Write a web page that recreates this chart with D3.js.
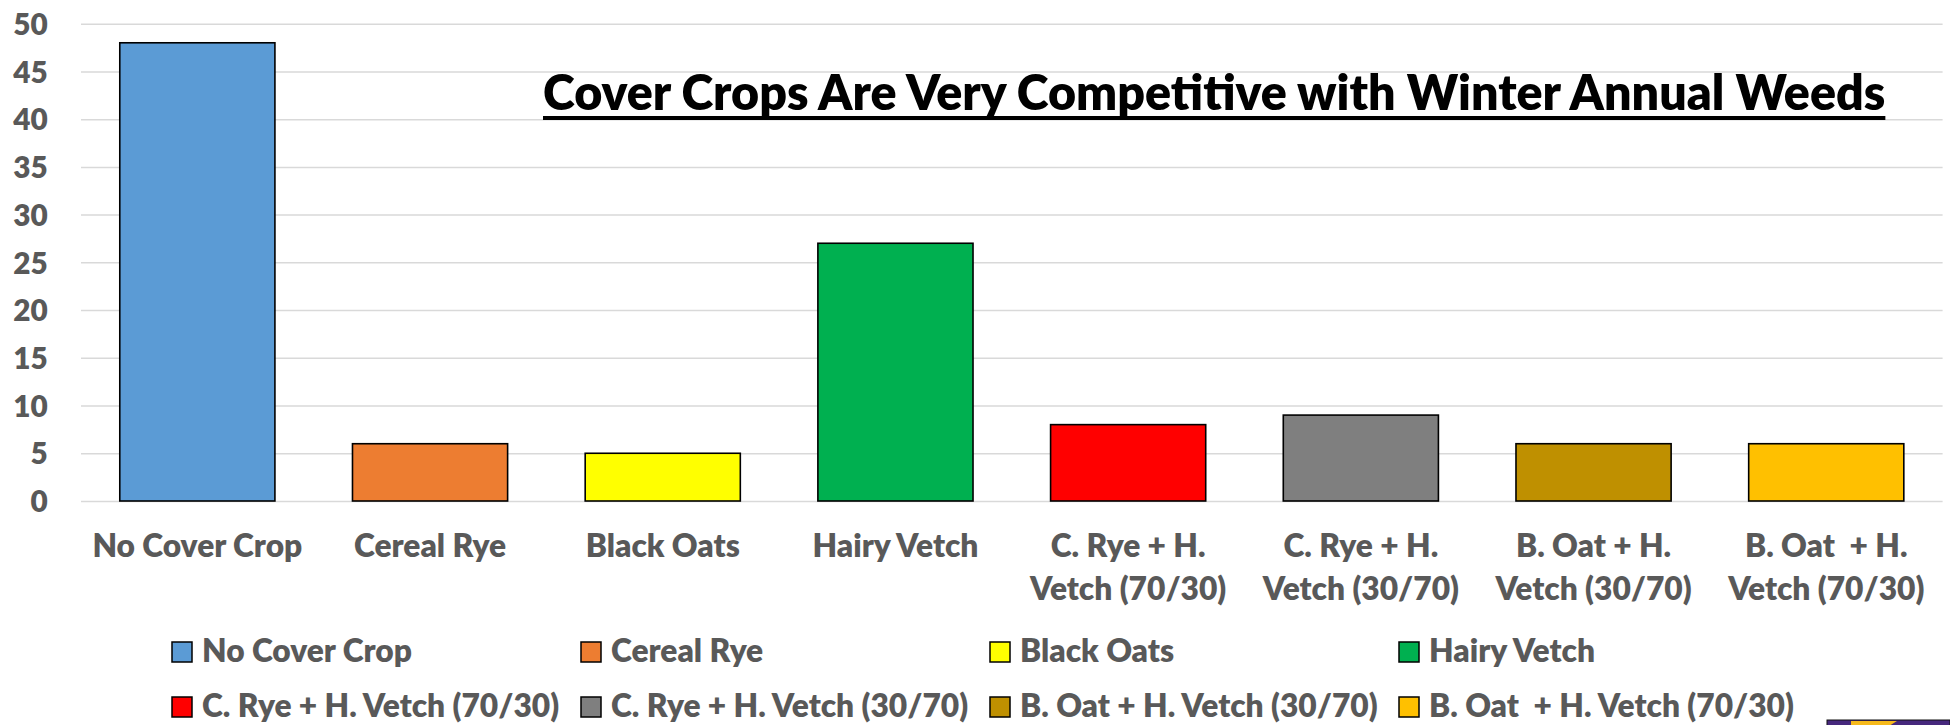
<!DOCTYPE html>
<html>
<head>
<meta charset="utf-8">
<script src="https://cdn.jsdelivr.net/npm/d3@7"></script>
<style>
  html, body { margin: 0; padding: 0; background: #fff; }
  svg { display: block; }
  text { font-family: Lato, "Open Sans", sans-serif; font-weight: 800; white-space: pre; }
</style>
</head>
<body>
<svg id="chart" width="1950" height="725"></svg>
<script>
// Weed counts by cover crop treatment
const categories = [
  "No Cover Crop", "Cereal Rye", "Black Oats", "Hairy Vetch",
  "C. Rye + H. Vetch (70/30)", "C. Rye + H. Vetch (30/70)",
  "B. Oat + H. Vetch (30/70)", "B. Oat  + H. Vetch (70/30)"
];
const axisLabels = [
  ["No Cover Crop"], ["Cereal Rye"], ["Black Oats"], ["Hairy Vetch"],
  ["C. Rye + H.", "Vetch (70/30)"], ["C. Rye + H.", "Vetch (30/70)"],
  ["B. Oat + H.", "Vetch (30/70)"], ["B. Oat  + H.", "Vetch (70/30)"]
];
const values = [48, 6, 5, 27, 8, 9, 6, 6];
const colors = ["#5B9BD5", "#ED7D31", "#FFFF00", "#00B050", "#FF0000", "#7F7F7F", "#BF9000", "#FFC000"];
const yTicks = [0, 5, 10, 15, 20, 25, 30, 35, 40, 45, 50];
const title = "Cover Crops Are Very Competitive with Winter Annual Weeds";

const svg = d3.select("#chart");
const textGray = "#595959";

const plot = { left: 81, right: 1942.6, top: 23.7, bottom: 501 };

const x = d3.scaleBand()
  .domain(categories)
  .range([plot.left, plot.right])
  .paddingInner(1 / 3)
  .paddingOuter(1 / 6);

const y = d3.scaleLinear().domain([0, 50]).range([plot.bottom, plot.top]);

// size a font so a sample string spans a given width
function fitSize(sample, targetWidth, base) {
  const t = svg.append("text").attr("font-size", base).text(sample);
  const w = t.node().getComputedTextLength();
  t.remove();
  return base * targetWidth / w;
}
const labelSize = fitSize("No Cover Crop", 210, 30);
const tickSize = fitSize("50", 34.5, 30);
const titleSize = fitSize(title, 1343, 44);

// gridlines
svg.append("g")
  .attr("transform", `translate(${plot.left},0)`)
  .call(d3.axisLeft(y).tickValues(yTicks).tickSize(-(plot.right - plot.left)).tickFormat(""))
  .call(g => g.select(".domain").remove())
  .call(g => g.selectAll(".tick line").attr("stroke", "#d9d9d9").attr("stroke-width", 1.5));

// y-axis labels
svg.append("g")
  .attr("transform", `translate(47.7,0)`)
  .call(d3.axisLeft(y).tickValues(yTicks).tickSize(0).tickPadding(0))
  .call(g => g.select(".domain").remove())
  .call(g => g.selectAll(".tick text")
    .attr("fill", textGray)
    .attr("font-size", tickSize)
    .attr("dy", "0.36em"));

// bars
svg.append("g")
  .selectAll("rect")
  .data(values)
  .join("rect")
  .attr("x", (d, i) => x(categories[i]))
  .attr("width", x.bandwidth())
  .attr("y", d => y(d))
  .attr("height", d => y(0) - y(d))
  .attr("fill", (d, i) => colors[i])
  .attr("stroke", "#000")
  .attr("stroke-width", 1.6);

// category labels, wrapped onto two lines where needed
const xAxis = svg.append("g")
  .attr("transform", `translate(0,${plot.bottom})`)
  .call(d3.axisBottom(x).tickSize(0))
  .call(g => g.select(".domain").remove());
xAxis.selectAll(".tick text").each(function(d) {
  const i = categories.indexOf(d);
  const t = d3.select(this)
    .text(null)
    .attr("y", 56)
    .attr("dy", 0)
    .attr("fill", textGray)
    .attr("font-size", labelSize);
  axisLabels[i].forEach((line, k) => {
    t.append("tspan").attr("x", 0).attr("dy", k === 0 ? 0 : 43).text(line);
  });
});

// title
const titleText = svg.append("text")
  .attr("x", 543)
  .attr("y", 110)
  .attr("font-size", titleSize)
  .attr("fill", "#000")
  .text(title);
const tw = titleText.node().getComputedTextLength();
svg.append("rect")
  .attr("x", 543).attr("y", 116)
  .attr("width", tw).attr("height", 4)
  .attr("fill", "#000");

// legend: two rows of four
const legend = svg.append("g");
const item = legend.selectAll("g")
  .data(categories)
  .join("g")
  .attr("transform", (d, i) => `translate(${172 + (i % 4) * 409},${642 + Math.floor(i / 4) * 55})`);
item.append("rect")
  .attr("width", 20).attr("height", 20)
  .attr("fill", (d, i) => colors[i])
  .attr("stroke", "#000").attr("stroke-width", 1.5);
item.append("text")
  .attr("x", 30).attr("y", 20)
  .attr("font-size", labelSize)
  .attr("fill", textGray)
  .text(d => d);

// corner badge
const badge = svg.append("g").attr("transform", "translate(1827,720)");
badge.append("rect").attr("width", 123).attr("height", 6).attr("fill", "#46287D").attr("stroke", "#111").attr("stroke-width", 1);
badge.append("path").attr("d", "M24,1 L70,1 L62,6 L24,6 Z").attr("fill", "#F6B91B");
</script>
</body>
</html>
